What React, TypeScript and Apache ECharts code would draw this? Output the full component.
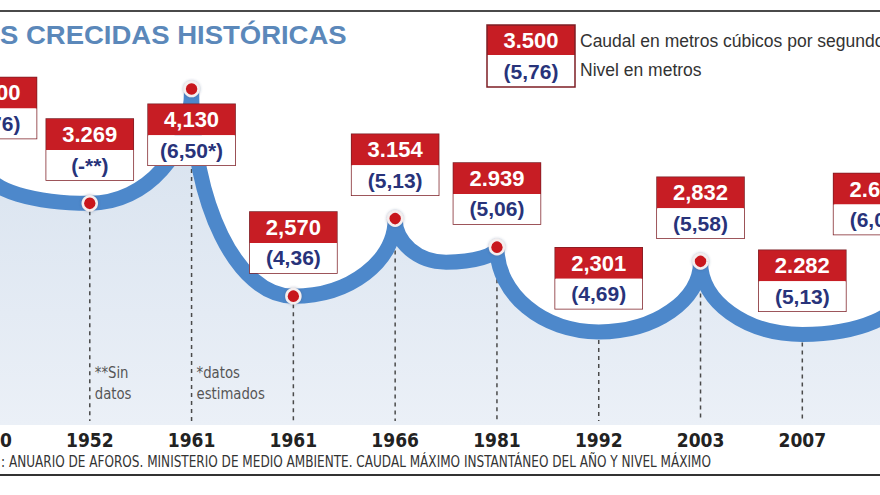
import { useEffect, useRef } from 'react';
import * as echarts from 'echarts';

// ---- data ----
const years = ['1930', '1952', '1961', '1961', '1966', '1981', '1992', '2003', '2007', '2015'];
const caudal = [3500, 3269, 4130, 2570, 3154, 2939, 2301, 2832, 2282, 2610];
const caudalText = ['3.500', '3.269', '4,130', '2,570', '3.154', '2.939', '2,301', '2,832', '2.282', '2.610'];
const nivelText = ['5,76', '-**', '6,50*', '4,36', '5,13', '5,06', '4,69', '5,58', '5,13', '6,05'];
const legendCaudal = '3.500';
const legendNivel = '(5,76)';
const legendTexts = ['Caudal en metros cúbicos por segundo', 'Nivel en metros'];
const titleText = 'S CRECIDAS HISTÓRICAS';
const sourceText = ': ANUARIO DE AFOROS. MINISTERIO DE MEDIO AMBIENTE. CAUDAL MÁXIMO INSTANTÁNEO DEL AÑO Y NIVEL MÁXIMO';
const notes = [
  { at: 1, text: '**Sin\ndatos' },
  { at: 2, text: '*datos\nestimados' },
];

// ---- styles ----
const Y_MIN = 1600;
const Y_MAX = 4800;
const NARROW = '"Liberation Sans Narrow", "DejaVu Sans Condensed", "Liberation Sans", sans-serif';
const SANS = '"Liberation Sans", Arial, sans-serif';
const RED = '#c71d24';
const NAVY = '#28337a';
const BORDER = '#7d1e24';
const LINE_BLUE = '#4d88cb';
const hiddenDots = [6, 8];
const labelOverrides: Record<number, any> = {
  0: { distance: 26, offset: [5, 0] },
  2: { position: 'bottom', distance: 7 },
  9: { distance: 48, offset: [-27, 0] },
};

const K = 0.552;
const SAG = 15;

function isTrough(i: number) {
  const leftOk = i === 0 || caudal[i] < caudal[i - 1];
  const rightOk = i === caudal.length - 1 || caudal[i] < caudal[i + 1];
  return i > 0 && i < caudal.length - 1 && leftOk && rightOk;
}

function segPath(a: number[], b: number[], aT: boolean, bT: boolean): string {
  const dx = b[0] - a[0];
  if (!aT && bT) {
    return ` C${a[0]},${a[1] + K * (b[1] - a[1])} ${b[0] - K * dx},${b[1]} ${b[0]},${b[1]}`;
  }
  if (aT && !bT) {
    return ` C${a[0] + K * dx},${a[1]} ${b[0]},${b[1] + K * (a[1] - b[1])} ${b[0]},${b[1]}`;
  }
  if (!aT && !bT) {
    const t = [(a[0] + b[0]) / 2, Math.max(a[1], b[1]) + SAG];
    return segPath(a, t, false, true) + segPath(t, b, true, false);
  }
  return ` C${a[0] + K * dx},${a[1]} ${b[0] - K * dx},${b[1]} ${b[0]},${b[1]}`;
}

export default function App() {
  const ref = useRef<HTMLDivElement>(null);
  useEffect(() => {
    if (!ref.current) return;
    const chart = echarts.init(ref.current, null, { renderer: 'svg' });

    const renderCurve = (params: any, api: any) => {
      if (params.dataIndex !== 0) return null;
      const pts = caudal.map((v, i) => api.coord([i, v]));
      const bottom = api.coord([0, Y_MIN])[1];
      let d = `M${pts[0][0]},${pts[0][1]}`;
      for (let i = 0; i < pts.length - 1; i++) {
        d += segPath(pts[i], pts[i + 1], isTrough(i), isTrough(i + 1));
      }
      const fillD = d + ` L${pts[pts.length - 1][0]},${bottom} L${pts[0][0]},${bottom} Z`;
      const children: any[] = [];
      children.push({
        type: 'path',
        shape: { pathData: fillD },
        style: {
          fill: new echarts.graphic.LinearGradient(0, 0, 0, 1, [
            { offset: 0, color: '#d6e1ee' },
            { offset: 1, color: '#ebf0f7' },
          ]),
          stroke: 'none',
        },
      });
      pts.forEach((p) => {
        children.push({
          type: 'line',
          shape: { x1: p[0], y1: p[1], x2: p[0], y2: bottom - 4 },
          style: { stroke: '#4a4a4a', lineWidth: 1.5, lineDash: [4, 4] },
        });
      });
      notes.forEach((n) => {
        const p = pts[n.at];
        children.push({
          type: 'text',
          x: p[0] + 5,
          y: bottom - 63,
          scaleX: 0.92,
          style: {
            text: n.text,
            fill: '#555',
            fontSize: 16,
            fontFamily: NARROW,
            lineHeight: 21,
            verticalAlign: 'top',
            align: 'left',
          },
        });
      });
      children.push({
        type: 'path',
        shape: { pathData: d },
        style: { fill: 'none', stroke: LINE_BLUE, lineWidth: 15, lineJoin: 'round' },
      });
      return { type: 'group', children };
    };

    const option: any = {
      animation: false,
      backgroundColor: '#ffffff',
      grid: { left: -62.9, right: -75, top: 0, bottom: 70, containLabel: false, outerBoundsMode: 'none' },
      xAxis: {
        type: 'category',
        data: years,
        boundaryGap: true,
        axisLine: { show: false },
        axisTick: { show: false },
        splitLine: { show: false },
        axisLabel: {
          interval: 0,
          margin: 5,
          fontSize: 19,
          fontWeight: 'bold',
          fontFamily: NARROW,
          color: '#222',
        },
      },
      yAxis: {
        type: 'value',
        min: Y_MIN,
        max: Y_MAX,
        show: false,
        splitLine: { show: false },
      },
      series: [
        {
          type: 'custom',
          z: 1,
          clip: false,
          renderItem: renderCurve,
          data: [[0, caudal[0]]],
          encode: { x: 0, y: 1 },
          silent: true,
        },
        {
          type: 'scatter',
          z: 5,
          symbol: 'circle',
          symbolSize: 14,
          itemStyle: {
            opacity: 1,
            color: '#c8151d',
            borderColor: '#f4eeee',
            borderWidth: 2.5,
            shadowBlur: 3,
            shadowColor: 'rgba(60,80,120,0.45)',
          },
          label: {
            show: true,
            position: 'top',
            distance: 15,
            borderColor: BORDER,
            borderWidth: 1.5,
            padding: 0,
            opacity: 1,
            formatter: (p: any) =>
              `{q|${caudalText[p.dataIndex]}}\n{n|(${nivelText[p.dataIndex]})}`,
            rich: {
              q: {
                backgroundColor: RED,
                color: '#ffffff',
                fontSize: 22,
                fontWeight: 'bold',
                fontFamily: SANS,
                width: 87,
                height: 31,
                lineHeight: 31,
                align: 'center',
              },
              n: {
                backgroundColor: '#ffffff',
                color: NAVY,
                fontSize: 21,
                fontWeight: 'bold',
                fontFamily: SANS,
                width: 87,
                height: 30,
                lineHeight: 30,
                align: 'center',
              },
            },
          },
          data: caudal.map((v, i) => {
            const item: any = { value: [i, v] };
            if (hiddenDots.includes(i)) {
              item.itemStyle = {
                color: 'rgba(0,0,0,0)',
                borderColor: 'rgba(0,0,0,0)',
                shadowBlur: 0,
                shadowColor: 'rgba(0,0,0,0)',
              };
            }
            if (labelOverrides[i]) item.label = labelOverrides[i];
            return item;
          }),
        },
      ],
      graphic: [
        { type: 'rect', shape: { x: 0, y: 10, width: 880, height: 2 }, style: { fill: '#4a4a4a' } },
        {
          type: 'text',
          x: 0,
          y: 35,
          scaleX: 1.1,
          style: {
            text: titleText,
            fontSize: 25,
            fontWeight: 'bold',
            fontFamily: SANS,
            fill: '#5b88ba',
            verticalAlign: 'middle',
          },
        },
        { type: 'rect', shape: { x: 487, y: 25, width: 88, height: 30 }, style: { fill: RED } },
        {
          type: 'rect',
          shape: { x: 487, y: 25, width: 88, height: 62 },
          style: { fill: 'none', stroke: BORDER, lineWidth: 1.5 },
        },
        {
          type: 'text',
          x: 531,
          y: 40,
          style: {
            text: legendCaudal,
            fontSize: 22,
            fontWeight: 'bold',
            fontFamily: SANS,
            fill: '#fff',
            align: 'center',
            verticalAlign: 'middle',
          },
        },
        {
          type: 'text',
          x: 531,
          y: 71,
          style: {
            text: legendNivel,
            fontSize: 21,
            fontWeight: 'bold',
            fontFamily: SANS,
            fill: NAVY,
            align: 'center',
            verticalAlign: 'middle',
          },
        },
        {
          type: 'text',
          x: 580,
          y: 41,
          style: { text: legendTexts[0], fontSize: 17.5, fontFamily: SANS, fill: '#333', verticalAlign: 'middle' },
        },
        {
          type: 'text',
          x: 580,
          y: 70,
          style: { text: legendTexts[1], fontSize: 17.5, fontFamily: SANS, fill: '#333', verticalAlign: 'middle' },
        },
        {
          type: 'text',
          x: 1,
          y: 462,
          scaleX: 0.895,
          style: { text: sourceText, fontSize: 15, fontFamily: NARROW, fill: '#333', verticalAlign: 'middle' },
        },
        { type: 'rect', shape: { x: 0, y: 474, width: 880, height: 2 }, style: { fill: '#333' } },
      ],
    };
    chart.setOption(option);
    return () => chart.dispose();
  }, []);

  return (
    <div
      ref={ref}
      style={{
        position: 'fixed',
        left: 0,
        top: 0,
        width: 880,
        height: 495,
        overflow: 'hidden',
        background: '#fff',
      }}
    />
  );
}
